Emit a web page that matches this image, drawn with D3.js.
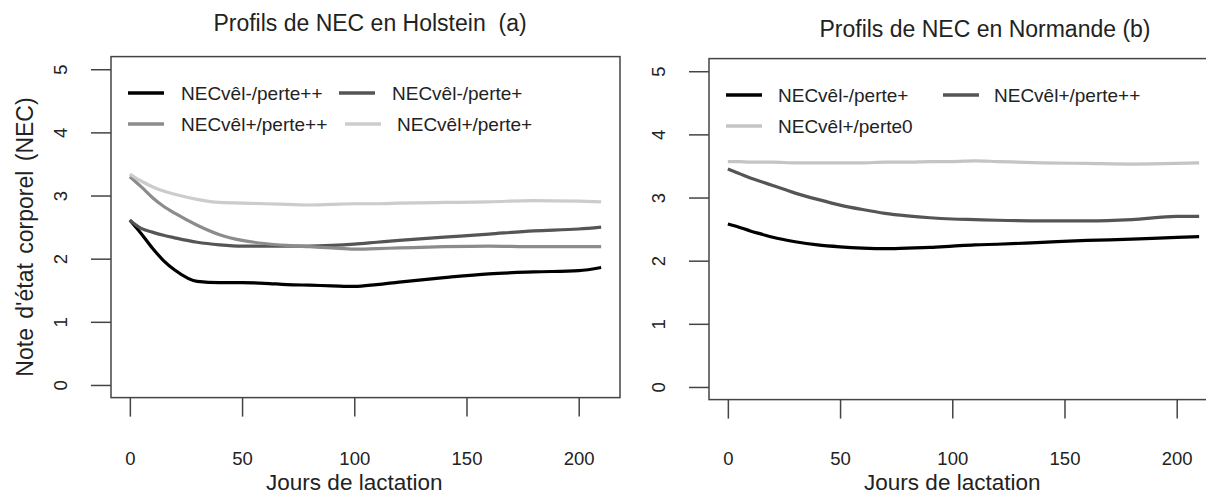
<!DOCTYPE html>
<html>
<head>
<meta charset="utf-8">
<script src="https://cdn.jsdelivr.net/npm/d3@7"></script>
<style>
  body { margin: 0; background: #fff; }
  svg text { font-family: "Liberation Sans", Arial, sans-serif; fill: #222; }
</style>
</head>
<body>
<div id="chart"></div>
<script>
// jours de lactation (grille de lecture commune)
const days = [0, 5, 10, 15, 20, 30, 40, 50, 60, 70, 80, 90, 100, 110, 120, 140, 160, 180, 200, 210];

// Holstein (a)
const holVelMoinsPertePP = [2.61, 2.40, 2.17, 1.97, 1.82, 1.64, 1.62, 1.62, 1.61, 1.59, 1.58, 1.57, 1.56, 1.59, 1.63, 1.70, 1.76, 1.79, 1.81, 1.86];
const holVelMoinsPerteP  = [2.61, 2.48, 2.42, 2.37, 2.33, 2.26, 2.22, 2.20, 2.20, 2.20, 2.20, 2.21, 2.23, 2.26, 2.29, 2.34, 2.39, 2.44, 2.47, 2.50];
const holVelPlusPertePP  = [3.30, 3.14, 2.97, 2.83, 2.72, 2.53, 2.38, 2.29, 2.24, 2.21, 2.19, 2.17, 2.15, 2.16, 2.17, 2.19, 2.20, 2.19, 2.19, 2.19];
const holVelPlusPerteP   = [3.34, 3.23, 3.14, 3.07, 3.02, 2.94, 2.89, 2.88, 2.87, 2.86, 2.85, 2.86, 2.87, 2.87, 2.88, 2.89, 2.90, 2.92, 2.91, 2.90];

// Normande (b)
const norVelMoinsPerteP  = [2.58, 2.53, 2.47, 2.42, 2.37, 2.30, 2.25, 2.22, 2.20, 2.19, 2.20, 2.21, 2.23, 2.25, 2.26, 2.29, 2.32, 2.34, 2.37, 2.38];
const norVelPlusPertePP  = [3.45, 3.38, 3.31, 3.25, 3.19, 3.07, 2.97, 2.88, 2.81, 2.75, 2.71, 2.68, 2.66, 2.65, 2.64, 2.63, 2.63, 2.65, 2.70, 2.70];
const norVelPlusPerte0   = [3.57, 3.57, 3.56, 3.56, 3.56, 3.55, 3.55, 3.55, 3.55, 3.56, 3.56, 3.57, 3.57, 3.58, 3.57, 3.55, 3.54, 3.53, 3.54, 3.55];

const xTicks = [0, 50, 100, 150, 200];
const yTicks = [0, 1, 2, 3, 4, 5];

const holLabels = ["NECvêl-/perte++", "NECvêl-/perte+", "NECvêl+/perte++", "NECvêl+/perte+"];
const norLabels = ["NECvêl-/perte+", "NECvêl+/perte++", "NECvêl+/perte0"];

const width = 1206, height = 495;
const svg = d3.select("#chart").append("svg")
    .attr("width", width)
    .attr("height", height);

svg.append("rect").attr("width", width).attr("height", height).attr("fill", "#fff");

function drawPanel(p) {
    const x = d3.scaleLinear().domain([-8.4, 218.4]).range([p.left, p.left + 509]);
    const y = d3.scaleLinear().domain([-0.2, 5.2]).range([p.bottom, p.bottom - 341]);
    const g = svg.append("g");

    // cadre
    g.append("rect")
        .attr("x", x(-8.4)).attr("y", y(5.2))
        .attr("width", x(218.4) - x(-8.4)).attr("height", y(-0.2) - y(5.2))
        .attr("fill", "none").attr("stroke", "#444").attr("stroke-width", 1.5);

    // axe x
    const xa = g.append("g").attr("transform", `translate(0,${y(-0.2)})`)
        .call(d3.axisBottom(x).tickValues(xTicks).tickSize(19).tickPadding(p.xPad).tickFormat(d3.format("d")));
    xa.select(".domain").remove();
    xa.selectAll("line").attr("stroke", "#444").attr("stroke-width", 1.5);
    xa.selectAll("text").style("font-size", "18.5px").attr("fill", "#222");

    // axe y (étiquettes tournées comme dans R)
    const ya = g.append("g").attr("transform", `translate(${x(-8.4)},0)`)
        .call(d3.axisLeft(y).tickValues(yTicks).tickSize(20).tickFormat(d3.format("d")));
    ya.select(".domain").remove();
    ya.selectAll("line").attr("stroke", "#444").attr("stroke-width", 1.5);
    ya.selectAll("text")
        .attr("x", null).attr("dy", null)
        .attr("text-anchor", "middle")
        .attr("transform", `translate(${p.yLabX - x(-8.4)},0) rotate(-90)`)
        .style("font-size", "18.5px").attr("fill", "#222");

    // courbes
    const line = d3.line()
        .x((d, i) => x(days[i]))
        .y(d => y(d))
        .curve(d3.curveMonotoneX);

    p.series.forEach(s => {
        g.append("path")
            .datum(s.values)
            .attr("fill", "none")
            .attr("stroke", s.color)
            .attr("stroke-width", 3.2)
            .attr("stroke-linejoin", "round")
            .attr("d", line);
    });

    // légende
    p.series.forEach((s, i) => {
        const lg = p.legend[i];
        g.append("line")
            .attr("x1", lg[0]).attr("x2", lg[0] + 36)
            .attr("y1", lg[1]).attr("y2", lg[1])
            .attr("stroke", s.color).attr("stroke-width", 3.5);
        g.append("text")
            .attr("x", lg[2]).attr("y", lg[1])
            .attr("dy", "0.35em")
            .style("font-size", "19px")
            .text(s.label);
    });

    // titres
    g.append("text")
        .attr("x", p.titleX).attr("y", p.titleY)
        .attr("text-anchor", "middle")
        .style("font-size", "23px")
        .attr("xml:space", "preserve")
        .text(p.title);

    g.append("text")
        .attr("x", x(100)).attr("y", 490)
        .attr("text-anchor", "middle")
        .style("font-size", "22.5px")
        .text("Jours de lactation");
}

drawPanel({
    left: 111, bottom: 397.6, yLabX: 67, xPad: 35,
    title: "Profils de NEC en Holstein  (a)", titleX: 370, titleY: 31,
    series: [
        { label: holLabels[0], values: holVelMoinsPertePP, color: "#000000" },
        { label: holLabels[1], values: holVelMoinsPerteP,  color: "#555555" },
        { label: holLabels[2], values: holVelPlusPertePP,  color: "#8c8c8c" },
        { label: holLabels[3], values: holVelPlusPerteP,   color: "#cccccc" }
    ],
    legend: [[128, 93, 181], [339, 93, 392], [128, 124, 181], [345, 124, 397]]
});

drawPanel({
    left: 709, bottom: 399.6, yLabX: 665, xPad: 33,
    title: "Profils de NEC en Normande (b)", titleX: 985, titleY: 37,
    series: [
        { label: norLabels[0], values: norVelMoinsPerteP, color: "#000000" },
        { label: norLabels[1], values: norVelPlusPertePP, color: "#555555" },
        { label: norLabels[2], values: norVelPlusPerte0,  color: "#c4c4c4" }
    ],
    legend: [[726, 95, 778], [943, 95, 994], [726, 126, 778]]
});

// titre axe y (panneau a)
svg.append("text")
    .attr("transform", "translate(33,237) rotate(-90)")
    .attr("text-anchor", "middle")
    .style("font-size", "23px")
    .style("word-spacing", "3px")
    .text("Note d'état corporel (NEC)");
</script>
</body>
</html>
